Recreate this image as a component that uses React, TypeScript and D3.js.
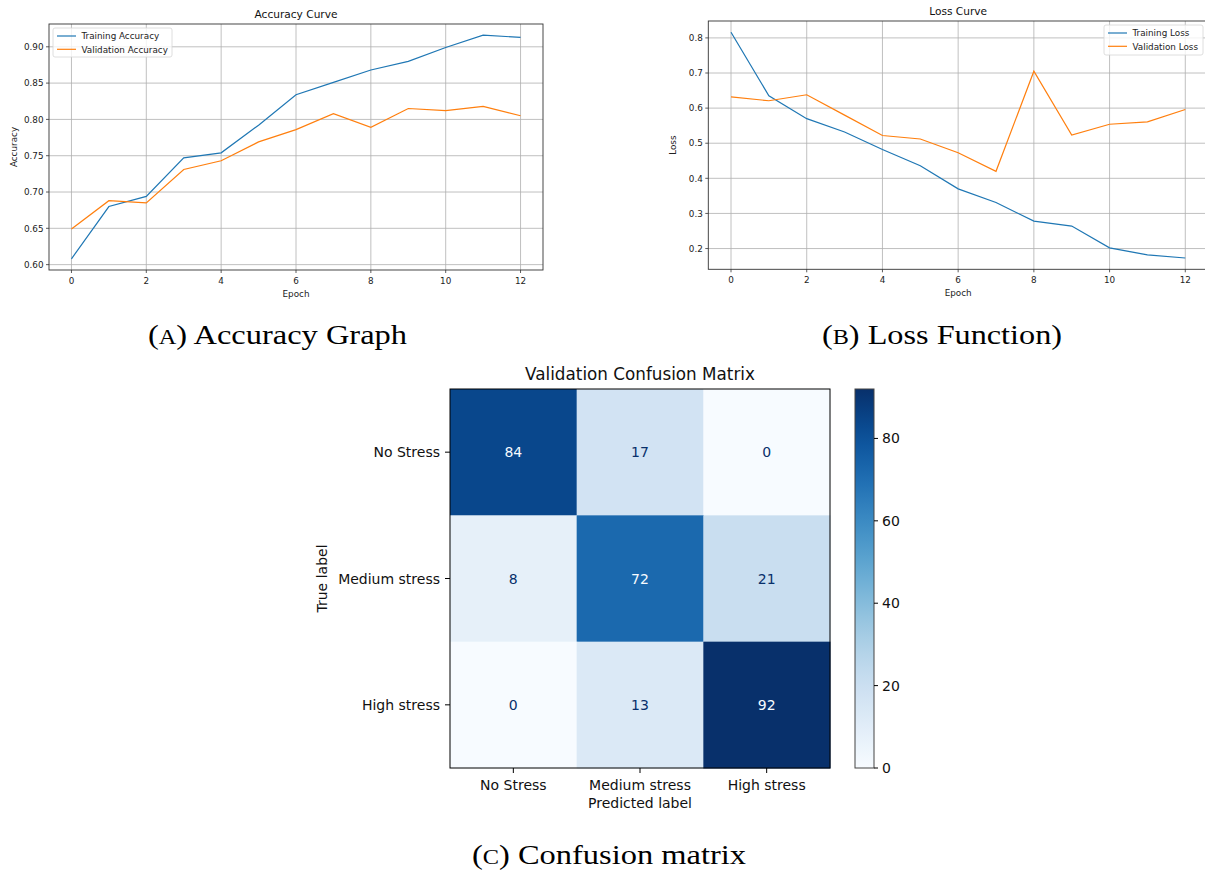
import React from 'react';
import * as d3 from 'd3';

const epochs = [0, 1, 2, 3, 4, 5, 6, 7, 8, 9, 10, 11, 12];
const trainAcc = [0.608, 0.680, 0.694, 0.747, 0.754, 0.792, 0.834, 0.851, 0.868, 0.880, 0.899, 0.916, 0.913];
const valAcc = [0.649, 0.688, 0.685, 0.731, 0.743, 0.769, 0.786, 0.808, 0.789, 0.815, 0.812, 0.818, 0.805];
const trainLoss = [0.816, 0.635, 0.570, 0.532, 0.482, 0.436, 0.370, 0.331, 0.278, 0.264, 0.202, 0.182, 0.173];
const valLoss = [0.632, 0.621, 0.638, 0.580, 0.522, 0.512, 0.473, 0.420, 0.705, 0.523, 0.554, 0.561, 0.596];
const accTicks = [0.6, 0.65, 0.7, 0.75, 0.8, 0.85, 0.9];
const lossTicks = [0.2, 0.3, 0.4, 0.5, 0.6, 0.7, 0.8];
const epochTicks = [0, 2, 4, 6, 8, 10, 12];
const classes = ['No Stress', 'Medium stress', 'High stress'];
const confusion = [
  [84, 17, 0],
  [8, 72, 21],
  [0, 13, 92],
];
const cbarTicks = [0, 20, 40, 60, 80];

const C1 = '#1f77b4';
const C2 = '#ff7f0e';
const SANS = '"DejaVu Sans", sans-serif';
const SERIF = '"Liberation Serif", "DejaVu Serif", serif';

type Series = { name: string; values: number[]; color: string };

function LinePanel(props: {
  x0: number; x1: number; y0: number; y1: number;
  yTicks: number[]; yFmt: (v: number) => string;
  title: string; ylabel: string; series: Series[];
  legend: { x: number; y: number; w: number; h: number };
}) {
  const { x0, x1, y0, y1, yTicks, yFmt, title, ylabel, series, legend } = props;
  const all = series.flatMap((s) => s.values);
  const mn = d3.min(all)!, mx = d3.max(all)!;
  const pad = (mx - mn) * 0.05;
  const x = d3.scaleLinear().domain([-0.6, 12.6]).range([x0, x1]);
  const y = d3.scaleLinear().domain([mn - pad, mx + pad]).range([y1, y0]);
  const line = d3.line<number>().x((_, i) => x(epochs[i])).y((d) => y(d));
  const fs = 8.8;
  return (
    <g fontFamily={SANS}>
      {epochTicks.map((t) => (
        <line key={'gx' + t} x1={x(t)} x2={x(t)} y1={y0} y2={y1} stroke="#b0b0b0" strokeWidth={0.8} />
      ))}
      {yTicks.map((t) => (
        <line key={'gy' + t} x1={x0} x2={x1} y1={y(t)} y2={y(t)} stroke="#b0b0b0" strokeWidth={0.8} />
      ))}
      {series.map((s) => (
        <path key={s.name} d={line(s.values)!} fill="none" stroke={s.color} strokeWidth={1.2} />
      ))}
      <rect x={x0} y={y0} width={x1 - x0} height={y1 - y0} fill="none" stroke="#333" strokeWidth={0.9} />
      {epochTicks.map((t) => (
        <g key={'tx' + t}>
          <line x1={x(t)} x2={x(t)} y1={y1} y2={y1 + 3} stroke="#333" strokeWidth={0.8} />
          <text x={x(t)} y={y1 + 13.5} fontSize={fs} textAnchor="middle" fill="#222">{t}</text>
        </g>
      ))}
      {yTicks.map((t) => (
        <g key={'ty' + t}>
          <line x1={x0 - 3} x2={x0} y1={y(t)} y2={y(t)} stroke="#333" strokeWidth={0.8} />
          <text x={x0 - 5.5} y={y(t) + 3.2} fontSize={fs} textAnchor="end" fill="#222">{yFmt(t)}</text>
        </g>
      ))}
      <text x={(x0 + x1) / 2} y={y0 - 6} fontSize={10.6} textAnchor="middle" fill="#111">{title}</text>
      <text x={(x0 + x1) / 2} y={y1 + 27} fontSize={fs} textAnchor="middle" fill="#222">Epoch</text>
      <text transform={`translate(${x0 - 32},${(y0 + y1) / 2}) rotate(-90)`} fontSize={fs} textAnchor="middle" fill="#222">{ylabel}</text>
      <rect x={legend.x} y={legend.y} width={legend.w} height={legend.h} rx={2} fill="white" fillOpacity={0.8} stroke="#d5d5d5" strokeWidth={0.8} />
      {series.map((s, i) => (
        <g key={'lg' + s.name}>
          <line x1={legend.x + 4} x2={legend.x + 23} y1={legend.y + 8 + i * 13.3} y2={legend.y + 8 + i * 13.3} stroke={s.color} strokeWidth={1.2} />
          <text x={legend.x + 28.5} y={legend.y + 11.2 + i * 13.3} fontSize={fs} fill="#222">{s.name}</text>
        </g>
      ))}
    </g>
  );
}

function Caption(props: { x: number; y: number; letter: string; rest: string; width: number }) {
  return (
    <text x={props.x} y={props.y} fontFamily={SERIF} fontSize={28} textAnchor="middle" fill="#000"
      textLength={props.width} lengthAdjust="spacingAndGlyphs">
      (<tspan fontSize={21}>{props.letter}</tspan>) {props.rest}
    </text>
  );
}

function Confusion() {
  const x0 = 450, x1 = 830, y0 = 389, y1 = 768;
  const xb = d3.scaleBand<string>().domain(classes).range([x0, x1]);
  const yb = d3.scaleBand<string>().domain(classes).range([y0, y1]);
  const vmin = d3.min(confusion.flat())!;
  const vmax = d3.max(confusion.flat())!;
  const color = d3.scaleSequential(d3.interpolateBlues).domain([vmin, vmax]);
  const thresh = (vmin + vmax) / 2;
  const cb0 = 855, cb1 = 874;
  const cy = d3.scaleLinear().domain([vmin, vmax]).range([y1, y0]);
  const stops = d3.range(0, 1.0001, 0.05);
  const fs = 14;
  return (
    <g fontFamily={SANS}>
      <defs>
        <linearGradient id="cbar" x1="0" y1="1" x2="0" y2="0">
          {stops.map((s) => (
            <stop key={s} offset={s} stopColor={d3.interpolateBlues(s)} />
          ))}
        </linearGradient>
      </defs>
      {confusion.map((row, i) =>
        row.map((v, j) => (
          <g key={i + '-' + j}>
            <rect x={xb(classes[j])!} y={yb(classes[i])!} width={xb.bandwidth() + 0.5} height={yb.bandwidth() + 0.5} fill={color(v)} />
            <text x={xb(classes[j])! + xb.bandwidth() / 2} y={yb(classes[i])! + yb.bandwidth() / 2 + 5}
              fontSize={fs} textAnchor="middle" fill={v > thresh ? d3.interpolateBlues(0) : d3.interpolateBlues(1)}>{v}</text>
          </g>
        ))
      )}
      <rect x={x0} y={y0} width={x1 - x0} height={y1 - y0} fill="none" stroke="#000" strokeWidth={1} />
      {classes.map((c) => (
        <g key={'x' + c}>
          <line x1={xb(c)! + xb.bandwidth() / 2} x2={xb(c)! + xb.bandwidth() / 2} y1={y1} y2={y1 + 5} stroke="#000" strokeWidth={1} />
          <text x={xb(c)! + xb.bandwidth() / 2} y={y1 + 22} fontSize={fs} textAnchor="middle" fill="#111">{c}</text>
        </g>
      ))}
      {classes.map((c) => (
        <g key={'y' + c}>
          <line x1={x0 - 5} x2={x0} y1={yb(c)! + yb.bandwidth() / 2} y2={yb(c)! + yb.bandwidth() / 2} stroke="#000" strokeWidth={1} />
          <text x={x0 - 10} y={yb(c)! + yb.bandwidth() / 2 + 5} fontSize={fs} textAnchor="end" fill="#111">{c}</text>
        </g>
      ))}
      <text x={(x0 + x1) / 2} y={y0 - 9} fontSize={16.8} textAnchor="middle" fill="#111">Validation Confusion Matrix</text>
      <text x={(x0 + x1) / 2} y={y1 + 40} fontSize={fs} textAnchor="middle" fill="#111">Predicted label</text>
      <text transform={`translate(${327},${(y0 + y1) / 2}) rotate(-90)`} fontSize={fs} textAnchor="middle" fill="#111">True label</text>
      <rect x={cb0} y={y0} width={cb1 - cb0} height={y1 - y0} fill="url(#cbar)" stroke="#444" strokeWidth={1} />
      {cbarTicks.map((t) => (
        <g key={'cb' + t}>
          <line x1={cb1} x2={cb1 + 4} y1={cy(t)} y2={cy(t)} stroke="#000" strokeWidth={1} />
          <text x={cb1 + 8} y={cy(t) + 5} fontSize={fs} fill="#111">{t}</text>
        </g>
      ))}
    </g>
  );
}

export default function App() {
  return (
    <svg width={1205} height={871} style={{ position: 'absolute', left: 0, top: 0, background: 'white' }}>
      <rect width={1205} height={871} fill="white" />
      <LinePanel x0={49} x1={543} y0={24} y1={270} yTicks={accTicks} yFmt={d3.format('.2f')}
        title="Accuracy Curve" ylabel="Accuracy"
        series={[{ name: 'Training Accuracy', values: trainAcc, color: C1 }, { name: 'Validation Accuracy', values: valAcc, color: C2 }]}
        legend={{ x: 53, y: 28, w: 119, h: 29 }} />
      <LinePanel x0={708.3} x1={1208} y0={21} y1={269.3} yTicks={lossTicks} yFmt={d3.format('.1f')}
        title="Loss Curve" ylabel="Loss"
        series={[{ name: 'Training Loss', values: trainLoss, color: C1 }, { name: 'Validation Loss', values: valLoss, color: C2 }]}
        legend={{ x: 1104, y: 25, w: 99, h: 30 }} />
      <Caption x={277.5} y={344} letter="A" rest="Accuracy Graph" width={259} />
      <Caption x={942} y={344} letter="B" rest="Loss Function)" width={240} />
      <Confusion />
      <Caption x={609} y={864} letter="C" rest="Confusion matrix" width={274} />
    </svg>
  );
}
